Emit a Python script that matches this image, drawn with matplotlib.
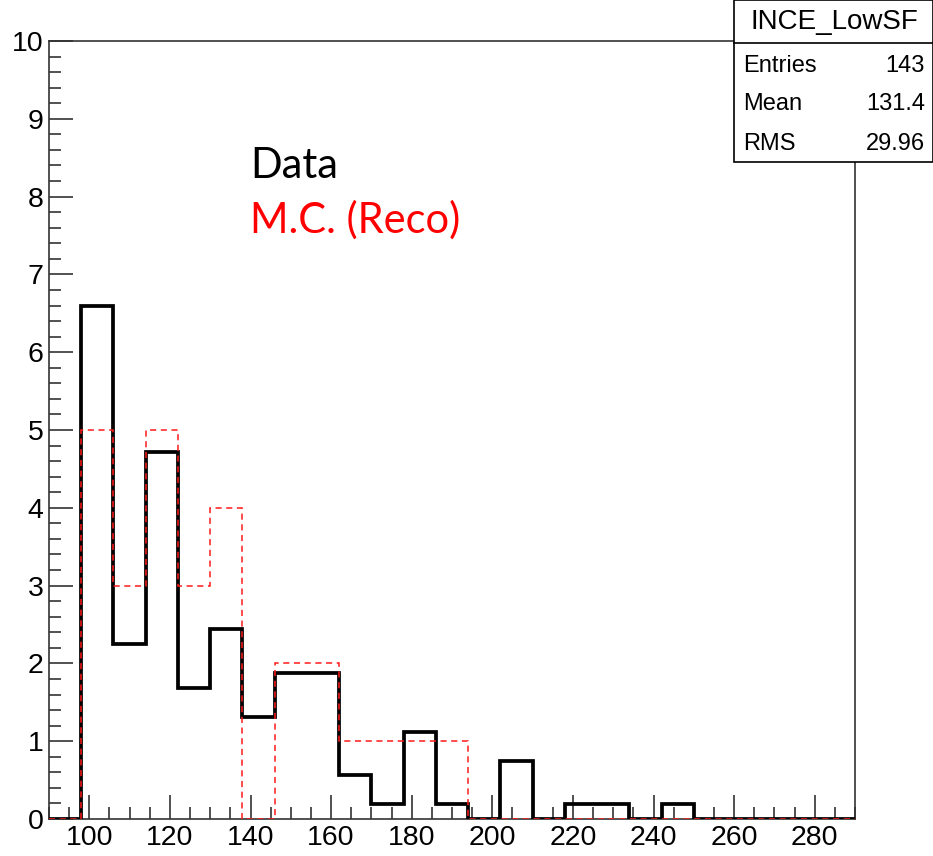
import numpy as np
import matplotlib.pyplot as plt
from matplotlib.patches import Rectangle
from matplotlib.lines import Line2D
from matplotlib.ticker import MultipleLocator

# bins: 25 bins of width 8 from 90 to 290
bin_lo, bin_hi, bin_w = 90, 290, 8

data_vals = [0, 6.6, 2.25, 4.72, 1.68, 2.44, 1.31, 1.88, 1.88, 0.56, 0.19, 1.12, 0.19,
             0, 0.75, 0, 0.19, 0.19, 0, 0.19, 0, 0, 0, 0, 0]
mc_vals = [0, 5, 3, 5, 3, 4, 0, 2, 2, 1, 1, 1, 1,
           0, 0, 0, 0, 0, 0, 0, 0, 0, 0, 0, 0]

stats_title = "INCE_LowSF"
stats_names = ["Entries", "Mean", "RMS"]
stats_values = ["143", "131.4", "29.96"]

edges = np.arange(bin_lo, bin_hi + bin_w, bin_w)

W, H = 933, 856
fig = plt.figure(figsize=(W / 100, H / 100), dpi=100)
ax = fig.add_axes([49 / W, 37 / H, 806 / W, 778 / H])

ax.stairs(data_vals, edges, color="black", linewidth=2.7, zorder=3)
ax.stairs(mc_vals, edges, color="#ff1a1a", linewidth=1.1, linestyle=(0, (4, 3)), zorder=4)

ax.set_xlim(bin_lo, bin_hi)
ax.set_ylim(0, 10)
ax.xaxis.set_major_locator(MultipleLocator(20))
ax.xaxis.set_minor_locator(MultipleLocator(5))
ax.yaxis.set_major_locator(MultipleLocator(1))
ax.yaxis.set_minor_locator(MultipleLocator(0.2))
ax.tick_params(which="both", direction="in", top=False, right=False, color="#333333", width=1.2)
ax.tick_params(which="major", length=17, labelsize=20.5)
ax.tick_params(which="minor", length=8.5)
ax.tick_params(axis="y", pad=4)
ax.tick_params(axis="x", pad=4)
for lab in ax.get_xticklabels() + ax.get_yticklabels():
    lab.set_fontfamily("Liberation Sans")
for s in ax.spines.values():
    s.set_linewidth(1.2)
    s.set_color("#333333")

# legend-like labels
fig.text(250 / W, 1 - 178 / H, "Data", fontsize=30, family="Lato", color="black", va="baseline")
fig.text(250 / W, 1 - 233 / H, "M.C. (Reco)", fontsize=30, family="Lato", color="red", va="baseline")

# stats box
x0, x1, y_top, y_sep, y_bot = 734, 933, 0, 43, 162
fig.patches.append(Rectangle((x0 / W, 1 - y_bot / H), (x1 - x0) / W, (y_bot - y_top) / H,
                             transform=fig.transFigure, facecolor="white", edgecolor="black",
                             linewidth=1.2, zorder=10))
fig.lines.append(Line2D([x0 / W, x1 / W], [1 - y_sep / H] * 2, transform=fig.transFigure,
                        color="black", linewidth=1.2, zorder=11))
fig.text(834 / W, 1 - 22 / H, stats_title, ha="center", va="center", fontsize=20,
         family="Liberation Sans", zorder=12)
rows_y = [66, 104, 144]
for name, val, yy in zip(stats_names, stats_values, rows_y):
    fig.text(743 / W, 1 - yy / H, name, ha="left", va="center", fontsize=17,
             family="Liberation Sans", zorder=12)
    fig.text(925 / W, 1 - yy / H, val, ha="right", va="center", fontsize=17,
             family="Liberation Sans", zorder=12)

fig.savefig("out.png", dpi=100)
